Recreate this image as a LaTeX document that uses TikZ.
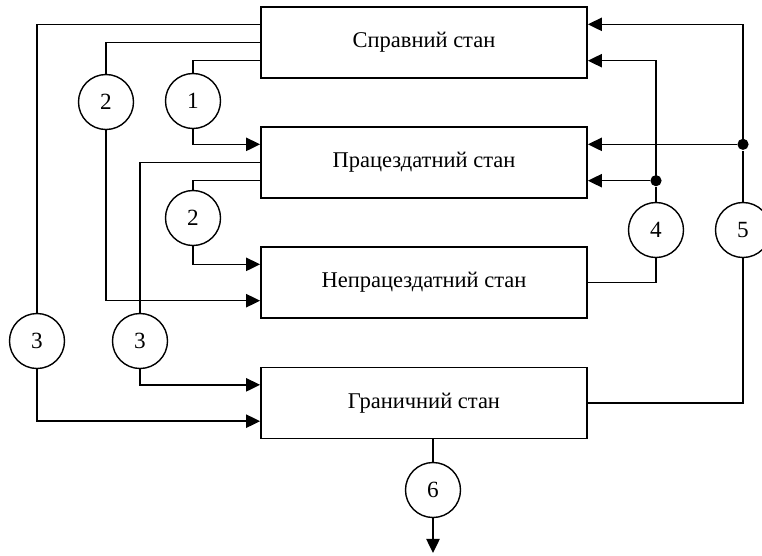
\documentclass[tikz,border=0pt]{standalone}
\usepackage{fontspec}
\setmainfont{Liberation Serif}
\usetikzlibrary{calc,arrows.meta}

\begin{document}
\begin{tikzpicture}[x=0.025cm, y=-0.025cm, line width=1pt, >={Triangle[length=10pt,width=9.5pt]}]
  \tikzset{state/.style={draw, line width=1.2pt, minimum width=8.15cm, minimum height=1.775cm, font=\fontsize{16}{19}\selectfont},
    num/.style={draw, circle, minimum size=1.375cm, inner sep=0pt, font=\fontsize{16.5}{19}\selectfont},
    junc/.style={fill, circle, minimum size=0.28cm, inner sep=0pt}}
  \useasboundingbox (0,0) rectangle (762,555);
  \node[state] (S) at (424,42.5) {Справний стан};
  \node[state] (P) at (424,162.5) {Працездатний стан};
  \node[state] (N) at (424,282.5) {Непрацездатний стан};
  \node[state] (G) at (424,403) {Граничний стан};
  \foreach \n in {S,P,N,G}
    \foreach \k/\f in {1/.25,2/.5,3/.75} {
      \coordinate (\n-w\k) at ($(\n.north west)!\f!(\n.south west)$);
      \coordinate (\n-e\k) at ($(\n.north east)!\f!(\n.south east)$);
    }
  \node[num] (C-1) at (193,101) {1};
  \node[num] (C-2-1) at (106,102) {2};
  \node[num] (C-2-2) at (193,218) {2};
  \node[num] (C-3-1) at (37,341) {3};
  \node[num] (C-3-2) at (140,341) {3};
  \node[num] (C-4) at (656,230) {4};
  \node[num] (C-5) at (743,230) {5};
  \node[num] (C-6) at (433,490) {6};
  \node[junc] (J-4) at (C-4 |- P-e3) {};
  \node[junc] (J-5) at (C-5 |- P-e1) {};
  \coordinate (out) at (433,553);
  \draw (S-w1) -| (C-3-1.north);
  \draw[->] (C-3-1.south) |- (G-w3);
  \draw (S-w2) -| (C-2-1.north);
  \draw[->] (C-2-1.south) |- (N-w3);
  \draw (S-w3) -| (C-1.north);
  \draw[->] (C-1.south) |- (P-w1);
  \draw (P-w2) -| (C-3-2.north);
  \draw[->] (C-3-2.south) |- (G-w1);
  \draw (P-w3) -| (C-2-2.north);
  \draw[->] (C-2-2.south) |- (N-w1);
  \draw (N-e2) -| (C-4.south);
  \draw (C-4.north) -- (J-4);
  \draw[->] (J-4) -- (P-e3);
  \draw[->] (J-4.center) |- (S-e3);
  \draw (G-e2) -| (C-5.south);
  \draw (C-5.north) -- (J-5);
  \draw[->] (J-5) -- (P-e1);
  \draw[->] (J-5.center) |- (S-e1);
  \draw (C-6.north) -- (C-6.north |- G.south);
  \draw[->] (C-6.south) -- (out);
\end{tikzpicture}
\end{document}
